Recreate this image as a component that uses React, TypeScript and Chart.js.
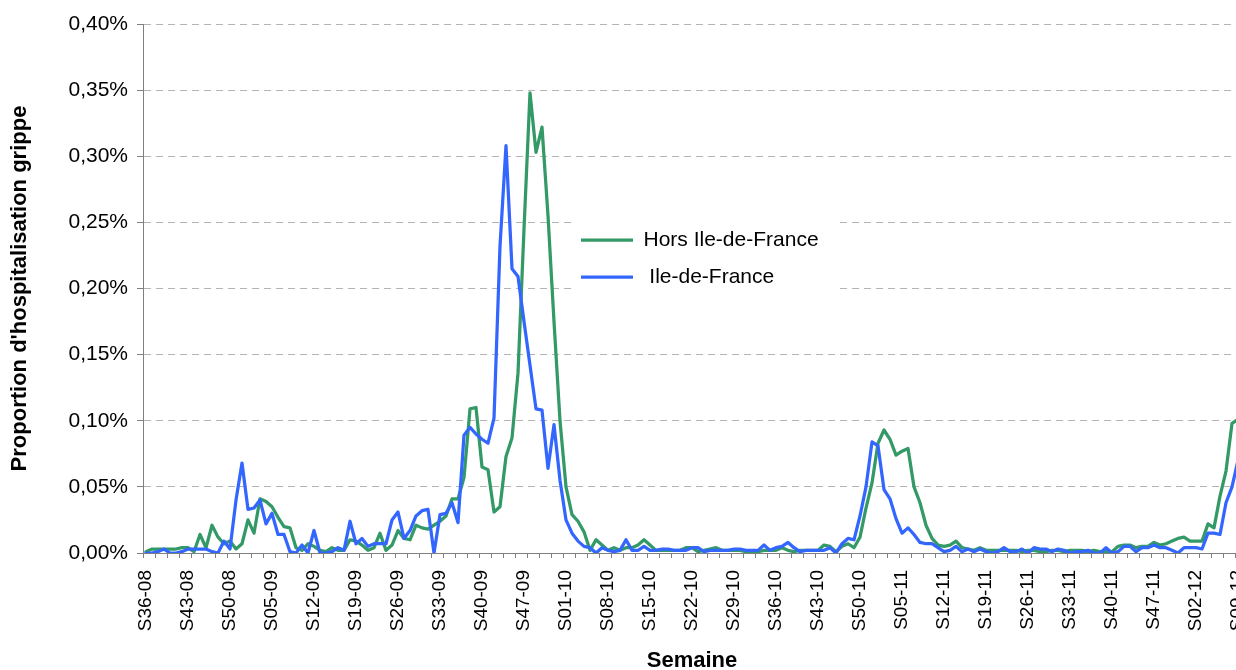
import React, { useEffect, useRef } from 'react';
import { Chart, registerables } from 'chart.js';

Chart.register(...registerables);

// ---- Data ----
// Week spans: [year suffix, first week, last week]
const YEAR_SPANS: [string, number, number][] = [
  ['08', 36, 52],
  ['09', 1, 53],
  ['10', 1, 52],
  ['11', 1, 52],
  ['12', 1, 9],
];
const WEEKS: string[] = [];
for (const [yy, a, b] of YEAR_SPANS) {
  for (let w = a; w <= b; w++) WEEKS.push(`S${String(w).padStart(2, '0')}-${yy}`);
}
const LABEL_EVERY = 7;

// Proportion (in %) – Hors Ile-de-France
const HORS_IDF: number[] = [
  0.001, 0.003, 0.003, 0.003, 0.003, 0.003, 0.004, 0.004, 0.001, 0.014,
  0.004, 0.021, 0.012, 0.007, 0.009, 0.003, 0.007, 0.025, 0.015, 0.041,
  0.039, 0.035, 0.027, 0.020, 0.019, 0.004, 0.002, 0.007, 0.005, 0.002,
  0.001, 0.004, 0.002, 0.002, 0.010, 0.009, 0.006, 0.002, 0.004, 0.015,
  0.002, 0.006, 0.017, 0.011, 0.010, 0.021, 0.019, 0.018, 0.021, 0.024,
  0.028, 0.041, 0.041, 0.057, 0.109, 0.110, 0.065, 0.063, 0.031, 0.035,
  0.073, 0.087, 0.136, 0.245, 0.348, 0.303, 0.322, 0.255, 0.175, 0.100,
  0.050, 0.029, 0.024, 0.016, 0.002, 0.010, 0.006, 0.002, 0.004, 0.002,
  0.004, 0.004, 0.006, 0.010, 0.006, 0.002, 0.002, 0.002, 0.002, 0.002,
  0.004, 0.004, 0.001, 0.002, 0.003, 0.004, 0.002, 0.002, 0.002, 0.002,
  0.001, 0.001, 0.001, 0.002, 0.002, 0.002, 0.004, 0.002, 0.001, 0.002,
  0.002, 0.002, 0.002, 0.006, 0.005, 0.001, 0.005, 0.007, 0.004, 0.012,
  0.034, 0.053, 0.083, 0.093, 0.086, 0.074, 0.077, 0.079, 0.050, 0.038,
  0.021, 0.011, 0.006, 0.005, 0.006, 0.009, 0.004, 0.003, 0.002, 0.004,
  0.002, 0.002, 0.002, 0.002, 0.002, 0.002, 0.001, 0.002, 0.002, 0.001,
  0.001, 0.002, 0.002, 0.001, 0.002, 0.002, 0.002, 0.001, 0.002, 0.001,
  0.001, 0.001, 0.005, 0.006, 0.006, 0.004, 0.005, 0.005, 0.008, 0.006,
  0.007, 0.009, 0.011, 0.012, 0.009, 0.009, 0.009, 0.022, 0.019, 0.043,
  0.062, 0.098, 0.101,
];

// Proportion (in %) – Ile-de-France
const IDF: number[] = [
  0.000, 0.000, 0.001, 0.003, 0.000, 0.000, 0.001, 0.003, 0.003, 0.003,
  0.003, 0.001, 0.000, 0.009, 0.003, 0.040, 0.068, 0.033, 0.034, 0.040,
  0.022, 0.030, 0.014, 0.014, 0.001, 0.000, 0.006, 0.000, 0.017, 0.000,
  0.000, 0.001, 0.004, 0.002, 0.024, 0.007, 0.011, 0.005, 0.007, 0.007,
  0.007, 0.025, 0.031, 0.011, 0.017, 0.028, 0.032, 0.033, 0.000, 0.029,
  0.030, 0.038, 0.023, 0.089, 0.095, 0.090, 0.086, 0.083, 0.102, 0.232,
  0.308, 0.215, 0.209, 0.175, 0.142, 0.109, 0.108, 0.064, 0.097, 0.055,
  0.025, 0.015, 0.009, 0.005, 0.004, 0.000, 0.004, 0.002, 0.001, 0.002,
  0.010, 0.002, 0.002, 0.005, 0.002, 0.002, 0.003, 0.003, 0.002, 0.002,
  0.002, 0.004, 0.004, 0.001, 0.002, 0.002, 0.002, 0.002, 0.003, 0.003,
  0.002, 0.002, 0.002, 0.006, 0.002, 0.004, 0.005, 0.008, 0.004, 0.001,
  0.002, 0.002, 0.002, 0.002, 0.004, 0.000, 0.007, 0.011, 0.010, 0.028,
  0.050, 0.084, 0.081, 0.048, 0.041, 0.026, 0.015, 0.019, 0.014, 0.008,
  0.007, 0.007, 0.004, 0.001, 0.002, 0.005, 0.001, 0.003, 0.001, 0.003,
  0.001, 0.000, 0.001, 0.004, 0.001, 0.001, 0.003, 0.000, 0.004, 0.003,
  0.003, 0.001, 0.003, 0.002, 0.000, 0.001, 0.001, 0.002, 0.000, 0.000,
  0.004, 0.000, 0.001, 0.005, 0.005, 0.001, 0.004, 0.004, 0.006, 0.004,
  0.004, 0.002, 0.000, 0.004, 0.004, 0.004, 0.003, 0.015, 0.015, 0.014,
  0.038, 0.050, 0.070,
];

const SERIES_NAMES = ['Hors Ile-de-France', ' Ile-de-France'];
const Y_MIN = 0;
const Y_MAX = 0.4;
const Y_STEP = 0.05;

// ---- Styles ----
const FONT = "'Liberation Sans', Arial, sans-serif";
const GREEN = '#339966';
const BLUE = '#3366FF';
const AXIS = '#808080';
const GRID = '#b4b4b4';

const CANVAS_W = 1241;
const CANVAS_H = 680;
const PLOT_LEFT = 143;
const PLOT_TOP = 24;
const PLOT_BOTTOM = 553;
const LEGEND_FONT = 21;
const LEGEND_PAD = 16;
const LEGEND_LEFT = 581 - LEGEND_PAD;
const LEGEND_TOP = 240 - LEGEND_FONT / 2 - LEGEND_PAD;
const LEGEND_BG = { x: 573, y: 205, w: 262, h: 95 };

const legendPlacer = {
  id: 'legendPlacer',
  afterLayout(chart: any) {
    const lg = chart.legend;
    if (!lg) return;
    const w = lg.width;
    const h = lg.height;
    lg.left = LEGEND_LEFT;
    lg.top = LEGEND_TOP;
    lg.right = LEGEND_LEFT + w;
    lg.bottom = LEGEND_TOP + h;
    if (!lg.__wrapped) {
      const orig = lg.draw.bind(lg);
      lg.draw = (area: any) => {
        const ctx = chart.ctx;
        ctx.save();
        ctx.fillStyle = '#ffffff';
        ctx.fillRect(LEGEND_BG.x, LEGEND_BG.y, LEGEND_BG.w, LEGEND_BG.h);
        ctx.restore();
        orig(area);
      };
      lg.__wrapped = true;
    }
  },
};

export default function App() {
  const canvasRef = useRef<HTMLCanvasElement | null>(null);

  useEffect(() => {
    if (!canvasRef.current) return;
    const chart = new Chart(canvasRef.current, {
      type: 'line',
      data: {
        labels: WEEKS,
        datasets: [
          {
            label: SERIES_NAMES[0],
            data: HORS_IDF,
            borderColor: GREEN,
            backgroundColor: GREEN,
            borderWidth: 3.25,
            pointRadius: 0,
            tension: 0,
            borderJoinStyle: 'round',
            borderCapStyle: 'round',
            order: 1,
          },
          {
            label: SERIES_NAMES[1],
            data: IDF,
            borderColor: BLUE,
            backgroundColor: BLUE,
            borderWidth: 3.25,
            pointRadius: 0,
            tension: 0,
            borderJoinStyle: 'round',
            borderCapStyle: 'round',
            order: 0,
          },
        ],
      },
      options: {
        responsive: false,
        maintainAspectRatio: false,
        animation: false,
        events: [],
        layout: { padding: { left: 0, top: PLOT_TOP, right: 0, bottom: 0 } },
        plugins: {
          tooltip: { enabled: false },
          title: { display: false },
          legend: {
            display: true,
            position: 'chartArea' as any,
            align: 'start',
            labels: {
              usePointStyle: true,
              pointStyle: 'line',
              pointStyleWidth: 52,
              padding: LEGEND_PAD,
              color: '#000',
              font: { family: FONT, size: LEGEND_FONT },
              sort: (a: any, b: any) => a.datasetIndex - b.datasetIndex,
            },
          },
        },
        scales: {
          x: {
            type: 'category',
            offset: true,
            grid: {
              display: true,
              offset: true,
              drawOnChartArea: false,
              drawTicks: true,
              tickLength: 5,
              tickWidth: 1,
              tickColor: (ctx: any) => (ctx.index % 2 === 0 ? AXIS : 'rgba(0,0,0,0)'),
            },
            border: { display: true, color: AXIS, width: 1 },
            ticks: {
              autoSkip: false,
              minRotation: 90,
              maxRotation: 90,
              padding: 12,
              color: '#000',
              font: { family: FONT, size: 19 },
              callback: (_v: any, index: number) => (index % LABEL_EVERY === 0 ? WEEKS[index] : ''),
            },
            title: {
              display: true,
              text: 'Semaine',
              color: '#000',
              font: { family: FONT, size: 22, weight: 'bold' },
              padding: { top: 0, bottom: 6 },
            },
            afterFit: (s: any) => {
              s.height = CANVAS_H - PLOT_BOTTOM;
              s.paddingLeft = 0;
              s.paddingRight = 0;
            },
          },
          y: {
            min: Y_MIN,
            max: Y_MAX,
            ticks: {
              stepSize: Y_STEP,
              padding: 9,
              color: '#000',
              font: { family: FONT, size: 21 },
              callback: (v: any) => Number(v).toFixed(2).replace('.', ',') + '%',
            },
            grid: {
              color: GRID,
              lineWidth: 1,
              drawTicks: true,
              tickLength: 6,
              tickColor: AXIS,
              tickWidth: 1,
            },
            border: { display: true, color: AXIS, width: 1, dash: [7, 5] },
            title: {
              display: true,
              text: "Proportion d'hospitalisation grippe",
              color: '#000',
              font: { family: FONT, size: 22, weight: 'bold' },
              padding: { top: 7, bottom: 0 },
            },
            afterFit: (s: any) => {
              s.width = PLOT_LEFT;
              s.paddingTop = 0;
              s.paddingBottom = 0;
            },
          },
        },
      },
      plugins: [legendPlacer],
    } as any);
    return () => chart.destroy();
  }, []);

  return (
    <div
      style={{
        position: 'fixed',
        left: 0,
        top: 0,
        width: 1236,
        height: 670,
        overflow: 'hidden',
        background: '#ffffff',
      }}
    >
      <canvas ref={canvasRef} width={CANVAS_W} height={CANVAS_H} style={{ display: 'block' }} />
    </div>
  );
}
